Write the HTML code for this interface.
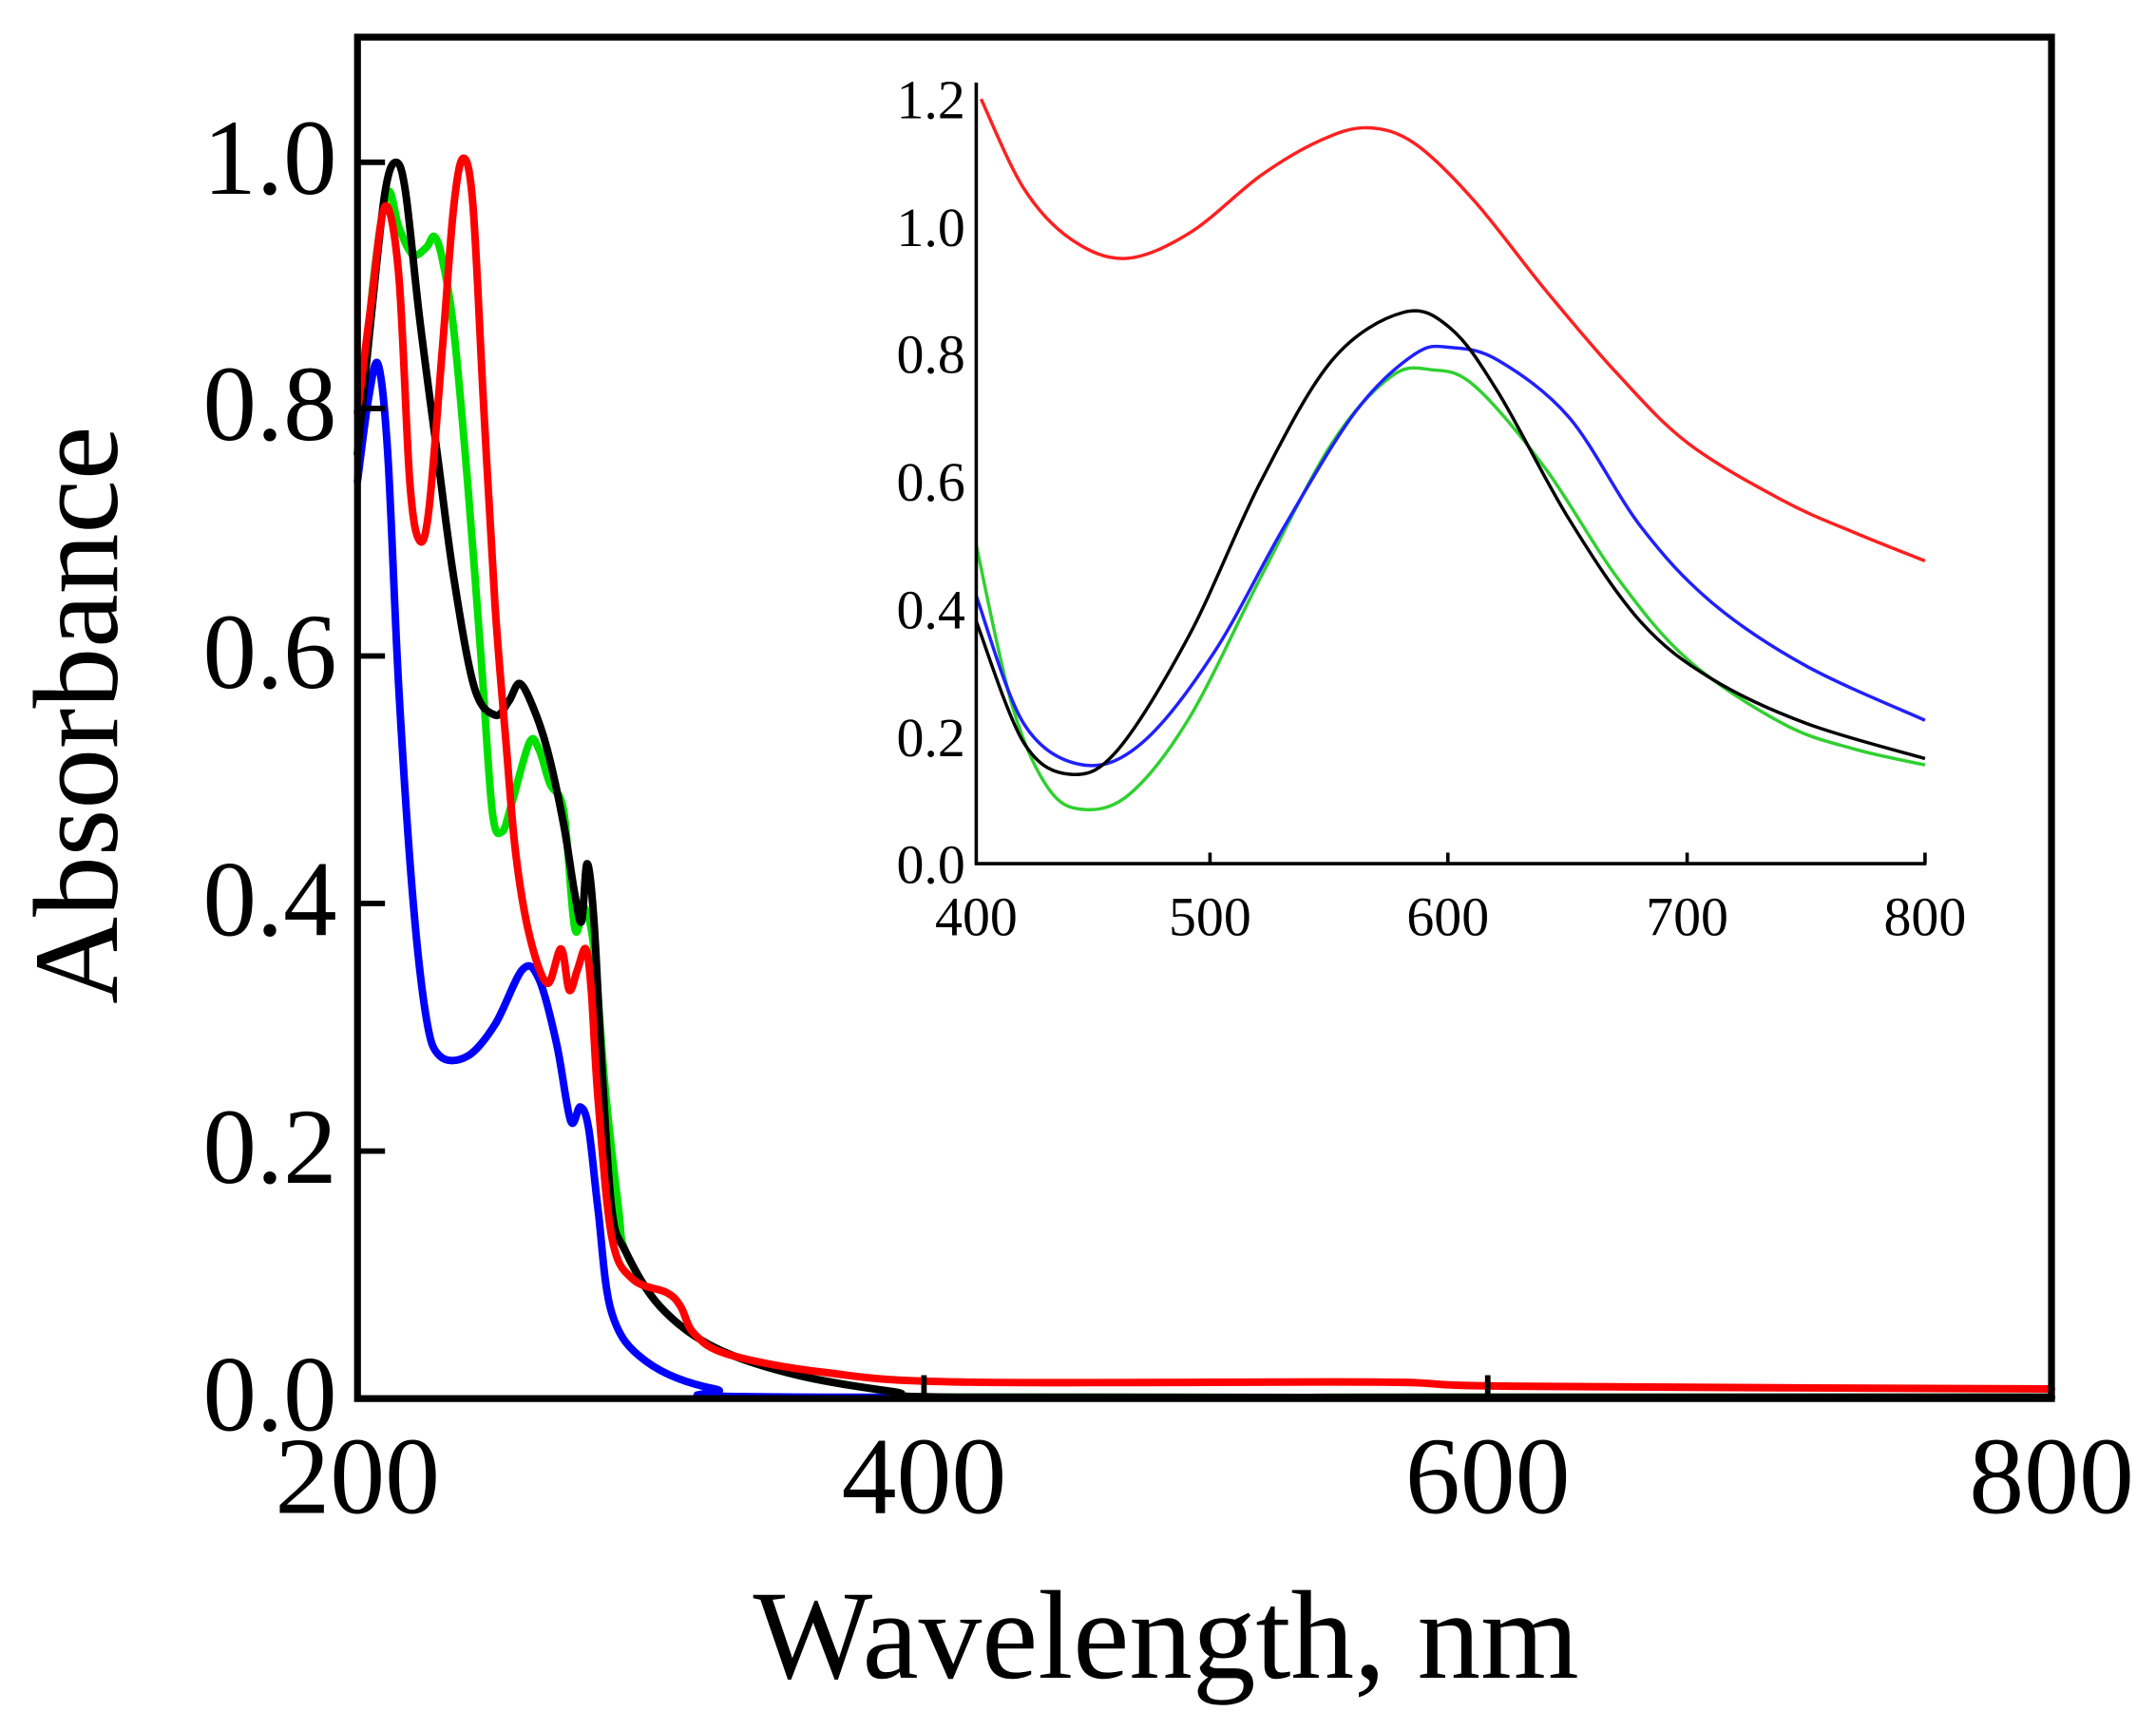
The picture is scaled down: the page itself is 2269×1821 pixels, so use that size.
<!DOCTYPE html>
<html><head><meta charset="utf-8"><style>
html,body{margin:0;padding:0;background:#fff;}
svg{display:block;}
text{font-family:"Liberation Serif",serif;fill:#000;}
</style></head><body>
<svg id="s" width="2269" height="1821" viewBox="0 0 1568 1258" preserveAspectRatio="none" xmlns="http://www.w3.org/2000/svg">
<rect x="0" y="0" width="1568" height="1258" fill="#fff"/>
<g id="main" fill="none" stroke-width="5.5" stroke-linejoin="round" stroke-linecap="round"></g>
<rect x="260" y="27" width="1232" height="990" fill="none" stroke="#000" stroke-width="5"/>
<g stroke="#000" stroke-width="4">
<line x1="260" y1="837" x2="280" y2="837"/><line x1="260" y1="657" x2="280" y2="657"/>
<line x1="260" y1="477" x2="280" y2="477"/><line x1="260" y1="297" x2="280" y2="297"/>
<line x1="260" y1="118" x2="280" y2="118"/>
<line x1="672" y1="1017" x2="672" y2="1000"/><line x1="1082" y1="1017" x2="1082" y2="1000"/>
</g>
<g font-size="78" text-anchor="end">
<text x="245" y="1040">0.0</text><text x="245" y="860">0.2</text><text x="245" y="680">0.4</text>
<text x="245" y="500">0.6</text><text x="245" y="320">0.8</text><text x="245" y="141">1.0</text>
</g>
<g font-size="80" text-anchor="middle">
<text x="260" y="1100">200</text><text x="672" y="1100">400</text><text x="1082" y="1100">600</text><text x="1492" y="1100">800</text>
</g>
<text x="848" y="1220" font-size="92" text-anchor="middle">Wavelength, nm</text>
<text transform="translate(85,520) rotate(-90)" font-size="88" text-anchor="middle">Absorbance</text>
<g id="inset" fill="none" stroke-width="2.4"></g>
<g stroke="#000" stroke-width="2.5">
<line x1="710" y1="60" x2="710" y2="629"/><line x1="709" y1="628" x2="1401" y2="628"/>
<line x1="880" y1="628" x2="880" y2="620"/><line x1="1053" y1="628" x2="1053" y2="620"/><line x1="1227" y1="628" x2="1227" y2="620"/><line x1="1400" y1="628" x2="1400" y2="620"/>
</g>
<g font-size="40" text-anchor="end">
<text x="702" y="642">0.0</text><text x="702" y="550">0.2</text><text x="702" y="457">0.4</text>
<text x="702" y="364">0.6</text><text x="702" y="271">0.8</text><text x="702" y="179">1.0</text><text x="702" y="86">1.2</text>
</g>
<g font-size="40" text-anchor="middle">
<text x="710" y="680">400</text><text x="880" y="680">500</text><text x="1053" y="680">600</text><text x="1227" y="680">700</text><text x="1400" y="680">800</text>
</g>
</svg>
<script>
function cr(p){var d="M"+p[0][0]+","+p[0][1];for(var i=0;i<p.length-1;i++){var p0=p[i-1]||p[i],p1=p[i],p2=p[i+1],p3=p[i+2]||p2;
d+=" C"+(p1[0]+(p2[0]-p0[0])/6).toFixed(1)+","+(p1[1]+(p2[1]-p0[1])/6).toFixed(1)+" "+(p2[0]-(p3[0]-p1[0])/6).toFixed(1)+","+(p2[1]-(p3[1]-p1[1])/6).toFixed(1)+" "+p2[0]+","+p2[1];}return d;}
var NS="http://www.w3.org/2000/svg";
function add(g,pts,c){var e=document.createElementNS(NS,"path");e.setAttribute("d",cr(pts));e.setAttribute("stroke",c);document.getElementById(g).appendChild(e);}
var tail=[[455,910],[480,950],[520,980],[580,1000],[650,1012],[700,1016],[1100,1016],[1492,1016]];
add("main",[[260,350],[268,290],[275,265],[282,330],[290,500],[300,650],[310,740],[320,768],[340,768],[360,745],[380,705],[392,712],[405,760],[415,815],[422,805],[428,820],[435,880],[445,955],[470,990],[520,1010],[600,1016],[1492,1016]],"#0000ff");
add("main",[[260,330],[272,200],[282,140],[290,165],[300,185],[310,180],[316,172],[322,190],[330,240],[340,350],[350,480],[358,590],[365,605],[372,585],[385,540],[392,545],[400,570],[410,590],[418,675],[425,660],[432,690],[440,790],[450,880]].concat(tail),"#00e000");
add("main",[[260,330],[270,230],[280,140],[288,118],[295,140],[305,230],[318,330],[330,420],[345,500],[360,520],[370,510],[378,497],[388,515],[398,545],[410,600],[418,650],[423,670],[427,628],[432,670],[438,780],[445,880]].concat(tail),"#000");
add("main",[[260,300],[270,220],[280,150],[290,200],[298,350],[305,393],[312,370],[322,250],[330,150],[337,115],[344,150],[352,300],[360,440],[368,540],[375,620],[385,680],[398,715],[408,690],[414,720],[420,705],[426,690],[430,720],[435,800],[445,900],[460,930],[485,940],[495,950],[505,970],[530,985],[600,998],[700,1005],[1000,1005],[1100,1008],[1492,1010]],"#ff0000");
function ip(a){return a.map(function(q){return [+(710+(q[0]-400)*1.725).toFixed(1),+(628-q[1]*463.3).toFixed(1)];});}
add("inset",ip([[402,1.2],[420,1.06],[440,0.98],[463,0.95],[490,0.99],[520,1.08],[545,1.135],[565,1.155],[585,1.13],[610,1.04],[640,0.9],[670,0.77],[700,0.66],[740,0.57],[770,0.52],[800,0.475]]),"#ff2020");
add("inset",ip([[400,0.5],[415,0.25],[430,0.12],[445,0.085],[465,0.11],[490,0.23],[520,0.45],[550,0.66],[575,0.765],[592,0.775],[610,0.75],[640,0.62],[670,0.45],[700,0.32],[740,0.22],[770,0.18],[800,0.155]]),"#30d030");
add("inset",ip([[400,0.42],[420,0.22],[445,0.155],[470,0.19],[500,0.33],[530,0.53],[560,0.71],[585,0.8],[600,0.81],[620,0.79],[650,0.7],[680,0.53],[710,0.41],[750,0.31],[800,0.225]]),"#2020ff");
add("inset",ip([[400,0.38],[420,0.19],[440,0.14],[460,0.18],[490,0.36],[520,0.6],[550,0.79],[580,0.865],[600,0.84],[620,0.74],[650,0.54],[680,0.38],[710,0.29],[750,0.22],[800,0.165]]),"#000");
</script>
</body></html>
